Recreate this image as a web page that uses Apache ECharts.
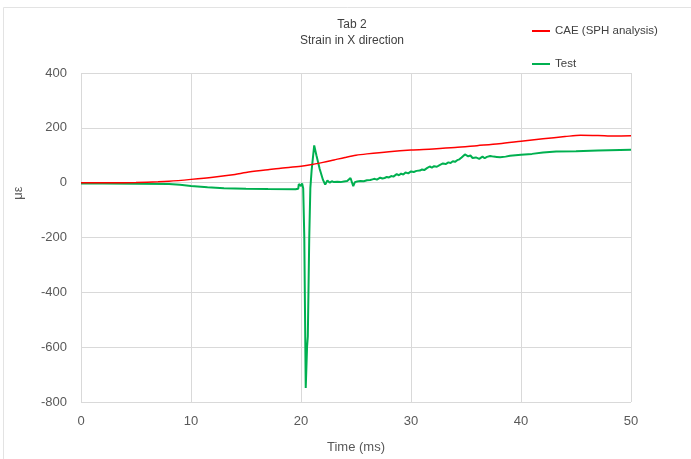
<!DOCTYPE html>
<html>
<head>
<meta charset="utf-8">
<script src="https://cdn.jsdelivr.net/npm/echarts@6/dist/echarts.min.js"></script>
<style>
html,body{margin:0;padding:0;background:#fff;}
#c{width:691px;height:459px;}
</style>
</head>
<body>
<div id="c"></div>
<script>
var xTicks = [0, 10, 20, 30, 40, 50];
var yTicks = [-800, -600, -400, -200, 0, 200, 400];

var caeTime = [0, 3, 5, 7, 8, 10, 12, 14, 15, 17, 18, 20, 21, 22, 23, 24, 25, 26, 28, 30, 32, 34, 36, 38, 40, 42, 44, 45.4, 47, 48.5, 50];
var caeStrain = [0, 0, 1, 3, 5, 12, 20, 30, 37, 47, 52, 60, 66, 74, 83, 92, 100, 105, 113, 119, 123, 128, 135, 142, 151, 160, 168, 173, 172, 170, 171];

var testTime = [0, 2, 5, 8, 9, 10, 11.5, 13, 15, 17, 19.5, 19.75, 19.8, 19.9, 20.0, 20.1, 20.2, 20.3, 20.43, 20.55, 20.62, 20.75, 20.85, 20.97, 21.2, 21.4, 21.7, 22.0, 22.2, 22.4, 22.6, 22.8, 23.0, 23.15, 23.3, 23.45, 23.6, 23.75, 23.9, 24.05, 24.2, 24.35, 24.5, 24.6, 24.75, 24.9, 25.1, 25.25, 25.4, 25.55, 25.7, 25.85, 26.0, 26.15, 26.3, 26.5, 26.7, 26.9, 27.2, 27.4, 27.6, 27.8, 28.0, 28.2, 28.4, 28.55, 28.7, 28.9, 29.1, 29.3, 29.5, 29.75, 30.0, 30.25, 30.5, 30.8, 31.0, 31.2, 31.45, 31.7, 31.9, 32.1, 32.35, 32.6, 32.75, 32.9, 33.15, 33.4, 33.6, 33.8, 34.0, 34.2, 34.4, 34.6, 34.75, 34.9, 35.05, 35.2, 35.4, 35.6, 35.75, 35.9, 36.05, 36.2, 36.35, 36.5, 36.7, 36.9, 37.05, 37.2, 37.35, 37.5, 37.65, 37.8, 38.1, 38.6, 39.0, 39.5, 40.0, 41, 42, 43.2, 45, 47, 50];
var testStrain = [-3, -3, -4, -5, -8, -12, -17, -20, -22, -23, -24, -22, -5, -2, -12, -3, -20, -200, -749, -600, -560, -200, -20, 47, 136, 100, 50, 10, -7, 8, 0, 5, 2, 7, 3, 6, 2, 9, 4, 8, 6, 11, 17, 10, -13, 2, 4, 8, 6, 9, 5, 10, 9, 6, 10, 12, 14, 11, 18, 15, 17, 21, 19, 24, 22, 28, 31, 27, 33, 30, 37, 34, 41, 39, 43, 44, 48, 46, 53, 59, 55, 60, 58, 64, 62, 70, 68, 74, 72, 78, 76, 82, 85, 92, 97, 103, 99, 96, 99, 90, 95, 92, 97, 87, 93, 95, 89, 94, 88, 97, 92, 95, 91, 94, 93, 95, 98, 100, 102, 105, 110, 114, 115, 117, 120];

function pairs(xs, ys) { return xs.map(function (x, i) { return [x, ys[i]]; }); }

var chart = echarts.init(document.getElementById('c'), null, { renderer: 'canvas' });
var txt = '#595959';
var font = 'Liberation Sans';
chart.setOption({
  animation: false,
  backgroundColor: '#fff',
  textStyle: { fontFamily: font },
  graphic: [
    { type: 'rect', shape: { x: 3.5, y: 7.5, width: 720, height: 480 }, style: { fill: 'none', stroke: '#e3e3e3', lineWidth: 1 }, silent: true },
    { type: 'text', x: 352, y: 25, style: { text: 'Tab 2', fill: '#404040', font: '12px ' + font, textAlign: 'center', textVerticalAlign: 'middle' } },
    { type: 'text', x: 352, y: 41, style: { text: 'Strain in X direction', fill: '#404040', font: '12px ' + font, textAlign: 'center', textVerticalAlign: 'middle' } },
    { type: 'text', x: 18, y: 193, rotation: Math.PI / 2, style: { text: 'με', fill: txt, font: '13px ' + font, textAlign: 'center', textVerticalAlign: 'middle' } }
  ],
  legend: {
    left: 527, top: 20, orient: 'vertical', itemGap: 21,
    itemWidth: 18, itemHeight: 2, icon: 'rect',
    textStyle: { color: '#404040', fontSize: 11.5, fontFamily: font },
    data: ['CAE (SPH analysis)', 'Test']
  },
  grid: { left: 81, right: 60, top: 73, bottom: 56, containLabel: false },
  xAxis: {
    type: 'value', min: 0, max: 50, interval: 10,
    name: 'Time (ms)', nameLocation: 'middle', nameGap: 39,
    nameTextStyle: { color: txt, fontSize: 13, fontFamily: font },
    axisLine: { show: false }, axisTick: { show: false },
    axisLabel: { color: txt, fontSize: 13, margin: 13, fontFamily: font,
      formatter: function (v) { return xTicks.indexOf(v) >= 0 ? String(v) : ''; } },
    splitLine: { show: true, lineStyle: { color: '#d9d9d9', width: 1 } }
  },
  yAxis: {
    type: 'value', min: -800, max: 400, interval: 200,
    axisLine: { show: false }, axisTick: { show: false },
    axisLabel: { color: txt, fontSize: 13, margin: 14, fontFamily: font,
      formatter: function (v) { return yTicks.indexOf(v) >= 0 ? String(v) : ''; } },
    splitLine: { show: true, lineStyle: { color: '#d9d9d9', width: 1 } }
  },
  series: [
    { name: 'CAE (SPH analysis)', type: 'line', data: pairs(caeTime, caeStrain), smooth: 0.3,
      showSymbol: false, symbol: 'none', lineStyle: { color: '#ff0000', width: 1.5 }, itemStyle: { color: '#ff0000' }, z: 3 },
    { name: 'Test', type: 'line', data: pairs(testTime, testStrain),
      showSymbol: false, symbol: 'none', lineStyle: { color: '#00b050', width: 2 }, itemStyle: { color: '#00b050' }, z: 2 }
  ]
});
</script>
</body>
</html>
